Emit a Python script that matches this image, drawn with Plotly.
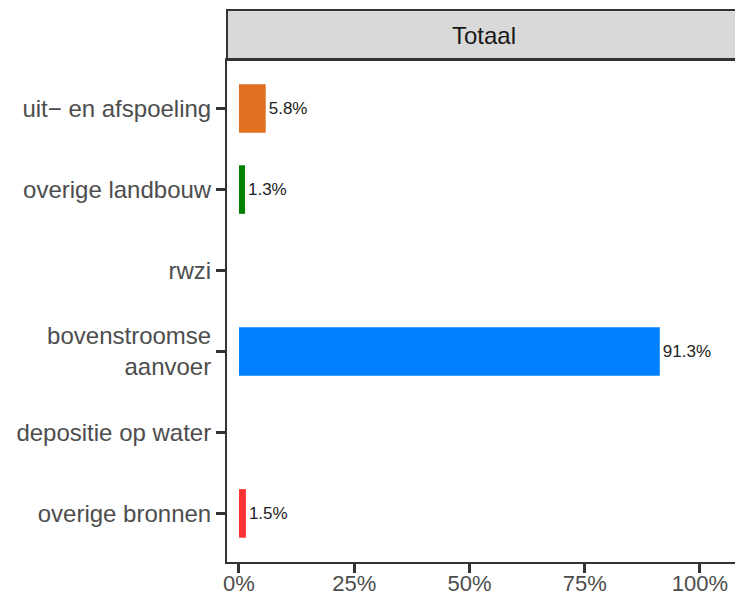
import plotly.graph_objects as go

# categories top to bottom
categories = ['uit\u2212 en afspoeling', 'overige landbouw', 'rwzi',
              'bovenstroomse<br>aanvoer', 'depositie op water', 'overige bronnen']
shares = [5.8, 1.3, 0.0, 91.3, 0.0, 1.5]
bar_colors = ['#E07020', '#008000', '#999999', '#0080FF', '#999999', '#FF3333']
x_ticks = [0, 25, 50, 75, 100]
x_tick_labels = ['0%', '25%', '50%', '75%', '100%']
facet_title = 'Totaal'

labels = [f'{v:.1f}%' if v > 0 else '' for v in shares]

FONT = 'Liberation Sans, Arial, sans-serif'

fig = go.Figure()

fig.add_trace(go.Bar(
    x=shares,
    y=categories,
    orientation='h',
    width=0.6,
    marker=dict(color=bar_colors, line=dict(width=0)),
    text=labels,
    textposition='outside',
    textfont=dict(family=FONT, size=17, color='#222222'),
    cliponaxis=False,
    hoverinfo='skip',
))

# the page body adds an 8px offset, so the figure is sized to fit inside it
fig.update_layout(
    width=735,
    height=591,
    margin=dict(l=219, r=3, t=52, b=37),
    plot_bgcolor='white',
    paper_bgcolor='white',
    showlegend=False,
    font=dict(family=FONT, size=24, color='#4D4D4D'),
)

fig.update_xaxes(
    range=[-2.6, 108.7],
    tickvals=x_ticks,
    ticktext=x_tick_labels,
    showgrid=False,
    zeroline=False,
    showline=True,
    linecolor='#333333',
    linewidth=2,
    mirror=True,
    ticks='outside',
    ticklen=9,
    tickwidth=3,
    tickcolor='#333333',
    tickfont=dict(size=22, color='#4D4D4D'),
    ticklabelstandoff=-8,
    automargin=False,
)

fig.update_yaxes(
    categoryorder='array',
    categoryarray=categories[::-1],
    range=[-0.6, 5.6],
    showgrid=False,
    zeroline=False,
    showline=True,
    linecolor='#333333',
    linewidth=2,
    mirror=True,
    ticks='outside',
    ticklen=9,
    tickwidth=3,
    tickcolor='#333333',
    tickfont=dict(size=24, color='#4D4D4D'),
    automargin=False,
)

# facet strip above the panel
strip_h = 50 / 502
fig.add_shape(
    type='rect', xref='paper', yref='paper',
    x0=0, x1=1, y0=1, y1=1 + strip_h,
    fillcolor='#D9D9D9', line=dict(color='#333333', width=2),
    layer='below',
)
fig.add_annotation(
    text=facet_title, xref='paper', yref='paper',
    x=0.5, y=1 + strip_h / 2, showarrow=False,
    font=dict(size=24, color='#1A1A1A'),
    xanchor='center', yanchor='middle',
)

fig.write_html('out.html')
